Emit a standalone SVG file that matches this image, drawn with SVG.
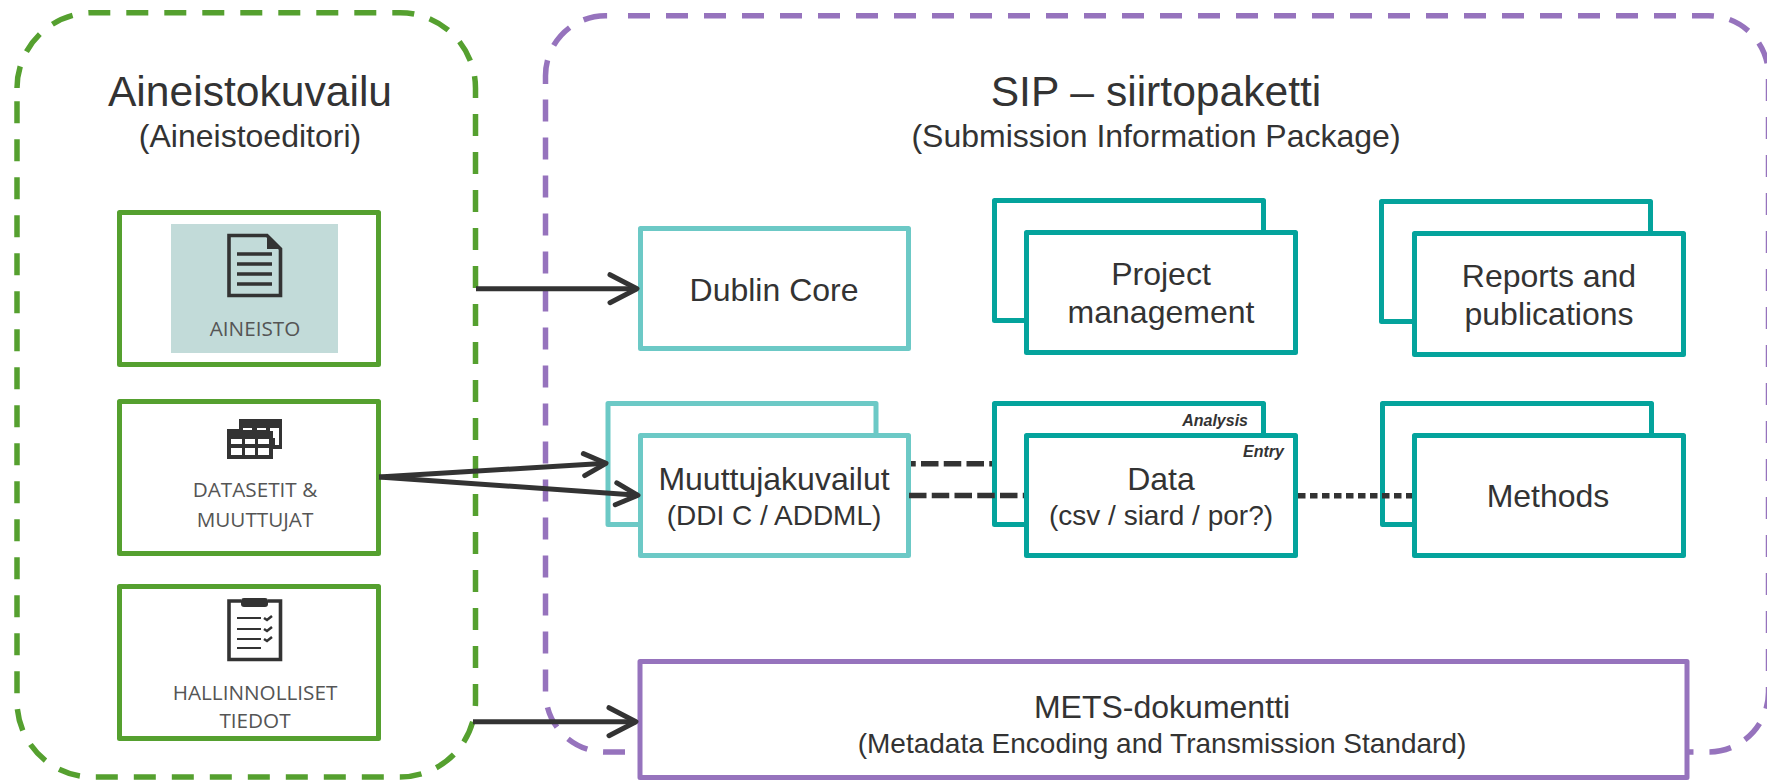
<svg xmlns="http://www.w3.org/2000/svg" width="1767" height="781" viewBox="0 0 1767 781">
<style>
text{font-family:"Liberation Sans",Arial,sans-serif;fill:#333;text-anchor:middle}
.t32{font-size:32px}.t42{font-size:42.6px}.t28{font-size:28px}
.tag{font-size:16px;font-weight:bold;font-style:italic;text-anchor:end}
.small{font-family:"Open Sans",sans-serif;font-size:20.7px;fill:#555}
.box{fill:#fff;stroke-width:5;stroke-linejoin:round}
.g{stroke:#55A02F}.lt{stroke:#6CC9C6}.dt{stroke:#04A39C}.p{stroke:#9673BD}
.dash{fill:none;stroke-width:5.5;stroke-dasharray:22 16}
.ln{fill:none;stroke:#333;stroke-width:5}
.dashed{stroke-width:5.5;stroke-dasharray:17.5 5.25}
.dotted{stroke-width:5.5;stroke-dasharray:7.5 4.5}
.ico{fill:none;stroke:#333;stroke-width:3.6}
.icf{fill:#333}
</style>
<defs>
<marker id="big" markerUnits="userSpaceOnUse" markerWidth="32" markerHeight="36" refX="29" refY="18" orient="auto" overflow="visible"><path d="M2,4 L29,18 L2,32" fill="none" stroke="#333" stroke-width="5" stroke-linecap="round" stroke-linejoin="round"/></marker>
<marker id="sm" markerUnits="userSpaceOnUse" markerWidth="28" markerHeight="30" refX="25" refY="15" orient="auto" overflow="visible"><path d="M3,4 L25,15 L3,26" fill="none" stroke="#333" stroke-width="5" stroke-linecap="round" stroke-linejoin="round"/></marker>
</defs>
<rect width="1767" height="781" fill="#fff"/>
<g id="group-aineistokuvailu">
<path class="dash g" d="M17,88 A75.5,75.5 0 0 1 92.500,12.700 H400 A75.500,75.500 0 0 1 475.500,88.200 V701.500 A75.500,75.500 0 0 1 400,777 H92.500 A75.500,75.500 0 0 1 17,701.500 V99"/>
<text class="t42" x="250" y="106">Aineistokuvailu</text>
<text class="t32" x="250" y="147">(Aineistoeditori)</text>
</g>
<g id="group-sip">
<path class="dash p" d="M628,15.700 H1708.500 A60,60 0 0 1 1768.500,75.700 V692 A60,60 0 0 1 1708.500,752 H640 M625,752 H605.500 A60,60 0 0 1 545.500,692 V99"/>
<path class="dash p" style="stroke-dasharray:24 16" d="M545.500,84 V75.700 A60,60 0 0 1 605.500,15.700 H611"/>
<text class="t42" x="1156" y="106">SIP – siirtopaketti</text>
<text class="t32" x="1156" y="147">(Submission Information Package)</text>
</g>
<g id="connectors-back">
<path class="ln dashed" d="M898.250,463.700 H993"/>
</g>
<g id="node-aineisto">
<rect class="box g" x="119.500" y="212.500" width="259" height="152"/>
<rect x="171" y="224" width="167" height="129" fill="#C2DBD9"/>
<path class="ico" d="M229,235.500 H267 L280.500,249 V295.500 H229 Z"/>
<path class="icf" d="M267,234 L282,249 H267 Z"/>
<path class="ico" d="M237,254 H272 M237,264 H272 M237,274 H272 M237,284 H272" stroke-width="3"/>
<text class="small" x="255" y="336">AINEISTO</text>
</g>
<g id="node-datasetit">
<rect class="box g" x="119.500" y="401.500" width="259" height="152"/>
<path class="icf" d="M239,419 H282 V449 H273 V459 H227 V429 H239 Z"/>
<path fill="#fff" d="M243,428 H252 V430 H243 Z M257,428 H266 V430 H257 Z M270,428 H279 V445 H275 V438 H273 V431 H270 Z M231,439 H242 V444 H231 Z M245,439 H255 V444 H245 Z M258,439 H269 V444 H258 Z M231,448 H242 V455 H231 Z M245,448 H255 V455 H245 Z M258,448 H269 V455 H258 Z"/>
<text class="small" x="255" y="497">DATASETIT &amp;</text>
<text class="small" x="255" y="527">MUUTTUJAT</text>
</g>
<g id="node-hallinnolliset">
<rect class="box g" x="119.500" y="586.500" width="259" height="152"/>
<path class="ico" d="M241,601 H229 V659.500 H280.500 V601 H268"/>
<rect class="icf" x="241" y="598" width="27" height="9" rx="3"/>
<path class="ico" style="stroke-width:2" d="M237,618 H261 M237,629 H261 M237,639 H261 M237,648 H261"/>
<path class="ico" style="stroke-width:2.500" d="M264,618 L267,620 L272,616 M264,629 L267,631 L272,627 M264,639 L267,641 L272,637"/>
<text class="small" x="255" y="700">HALLINNOLLISET</text>
<text class="small" x="255" y="728">TIEDOT</text>
</g>
<g id="node-dublin-core">
<rect class="box lt" x="640.500" y="228.500" width="268" height="120"/>
<text class="t32" x="774" y="301">Dublin Core</text>
</g>
<g id="node-project">
<rect class="box dt" x="994.500" y="200.500" width="269" height="120"/>
<rect class="box dt" x="1026.500" y="232.500" width="269" height="120"/>
<text class="t32" x="1161" y="285">Project</text>
<text class="t32" x="1161" y="323">management</text>
</g>
<g id="node-reports">
<rect class="box dt" x="1381.500" y="201.500" width="269" height="120"/>
<rect class="box dt" x="1414.500" y="233.500" width="269" height="121"/>
<text class="t32" x="1549" y="287">Reports and</text>
<text class="t32" x="1549" y="325">publications</text>
</g>
<g id="node-muuttuja">
<rect class="box lt" x="608" y="403.500" width="268" height="121"/>
<rect class="box lt" x="640.500" y="435.500" width="268" height="120"/>
<text class="t32" x="774" y="490">Muuttujakuvailut</text>
<text class="t28" x="774" y="525">(DDI C / ADDML)</text>
</g>
<g id="node-data-back">
<rect class="box dt" x="994.500" y="403.500" width="269" height="121"/>
<text class="tag" x="1248" y="426">Analysis</text>
</g>
<g id="node-methods-back">
<rect class="box dt" x="1382.500" y="403.500" width="269" height="121"/>
</g>
<g id="connectors">
<path class="ln dashed" d="M909,495.500 H1033"/>
<path class="ln dotted" d="M1298,495.700 H1412"/>
</g>
<g id="node-data">
<rect class="box dt" x="1026.500" y="435.500" width="269" height="120"/>
<text class="tag" x="1284" y="457">Entry</text>
<text class="t32" x="1161" y="490">Data</text>
<text class="t28" x="1161" y="525">(csv / siard / por?)</text>
</g>
<g id="node-methods">
<rect class="box dt" x="1414.500" y="435.500" width="269" height="120"/>
<text class="t32" x="1548" y="507">Methods</text>
</g>
<g id="node-mets">
<rect class="box p" x="640" y="661.500" width="1047" height="116"/>
<text class="t32" x="1162" y="718">METS-dokumentti</text>
<text class="t28" x="1162" y="753">(Metadata Encoding and Transmission Standard)</text>
</g>
<g id="arrows">
<path class="ln" d="M476,288.700 H637" marker-end="url(#big)"/>
<path class="ln" d="M473,721.700 H636" marker-end="url(#big)"/>
<path class="ln" d="M379,477 L606,463.300" marker-end="url(#sm)"/>
<path class="ln" d="M379,477 L638,495.300" marker-end="url(#sm)"/>
</g>
</svg>
